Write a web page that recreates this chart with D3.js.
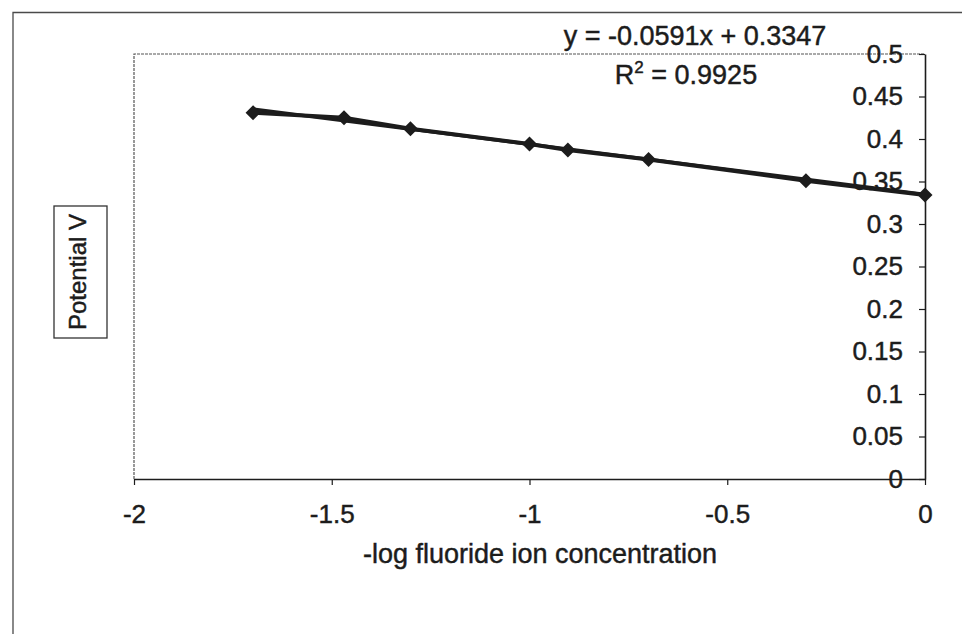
<!DOCTYPE html>
<html>
<head>
<meta charset="utf-8">
<script src="https://cdn.jsdelivr.net/npm/d3@7"></script>
<style>
  html, body { margin: 0; padding: 0; background: #ffffff; }
  svg { display: block; }
  text { font-family: "Liberation Sans", Arial, sans-serif; fill: #1c1c1c; stroke: #1c1c1c; stroke-width: 0.45px; }
</style>
</head>
<body>
<svg id="chart" width="962" height="634"></svg>
<script>
// Measured electrode potential against -log fluoride concentration
const logConc = [-1.699, -1.469, -1.301, -1.0, -0.903, -0.699, -0.301, 0];
const potential = [0.431, 0.425, 0.412, 0.394, 0.387, 0.376, 0.351, 0.334];

// Linear trendline coefficients and fit quality
const slope = -0.0591;
const intercept = 0.3347;
const rSquared = "0.9925";

const xTicks = [-2, -1.5, -1, -0.5, 0];
const yTicks = [0, 0.05, 0.1, 0.15, 0.2, 0.25, 0.3, 0.35, 0.4, 0.45, 0.5];

const xTitle = "-log fluoride ion concentration";
const yTitle = "Potential V";

const ink = "#1c1c1c";
const font = "'Liberation Sans', Arial, sans-serif";
const svg = d3.select("#chart");

const plot = { left: 134, right: 925, top: 54, bottom: 479 };

const x = d3.scaleLinear().domain([-2, 0]).range([plot.left, plot.right]);
const y = d3.scaleLinear().domain([0, 0.5]).range([plot.bottom, plot.top]);

// Outer chart frame (runs off the right and bottom edges)
svg.append("path")
  .attr("d", "M13,640 L13,12.5 L970,12.5")
  .attr("fill", "none")
  .attr("stroke", "#4a4a4a")
  .attr("stroke-width", 1.3);

// Plot area border (top and left)
svg.append("path")
  .attr("d", `M${plot.left},${plot.bottom} L${plot.left},${plot.top} L${plot.right},${plot.top}`)
  .attr("fill", "none")
  .attr("stroke", "#555")
  .attr("stroke-width", 1.2)
  .attr("stroke-dasharray", "3,1");

// X axis along the bottom
const xAxis = svg.append("g")
  .attr("transform", `translate(0,${plot.bottom})`)
  .call(d3.axisBottom(x).tickValues(xTicks).tickSize(6).tickSizeOuter(0).tickPadding(20)
    .tickFormat(d => String(d)));
xAxis.select(".domain").attr("stroke", ink).attr("stroke-width", 1.6);
xAxis.selectAll(".tick line").attr("stroke", ink).attr("stroke-width", 1.2);
xAxis.selectAll(".tick text").attr("fill", ink).style("font-size", "26px")
  .style("font-family", font);

// Y axis crossing at x = 0, labels on the inner side
const yAxis = svg.append("g")
  .attr("transform", `translate(${plot.right},0)`)
  .call(d3.axisLeft(y).tickValues(yTicks).tickSize(6).tickSizeOuter(0).tickPadding(16)
    .tickFormat(d => String(+d.toFixed(2))));
yAxis.select(".domain").attr("stroke", ink).attr("stroke-width", 1.6);
yAxis.selectAll(".tick line").attr("stroke", ink).attr("stroke-width", 1.2);
yAxis.selectAll(".tick text").attr("fill", ink).style("font-size", "26px")
  .style("font-family", font);

// Trendline over the measured range
const xMin = d3.min(logConc), xMax = d3.max(logConc);
svg.append("line")
  .attr("x1", x(xMin)).attr("y1", y(slope * xMin + intercept))
  .attr("x2", x(xMax)).attr("y2", y(slope * xMax + intercept))
  .attr("stroke", ink)
  .attr("stroke-width", 3.5);

// Data series line
const pts = logConc.map((v, i) => [v, potential[i]]);
svg.append("path")
  .datum(pts)
  .attr("d", d3.line().x(d => x(d[0])).y(d => y(d[1])))
  .attr("fill", "none")
  .attr("stroke", ink)
  .attr("stroke-width", 4)
  .attr("stroke-linejoin", "round");

// Diamond markers
svg.append("g").selectAll("path")
  .data(pts)
  .join("path")
  .attr("transform", d => `translate(${x(d[0])},${y(d[1])})`)
  .attr("d", "M0,-7.5 L7.5,0 L0,7.5 L-7.5,0 Z")
  .attr("fill", ink);

// Trendline equation and R-squared
svg.append("text")
  .attr("x", 695).attr("y", 45)
  .attr("text-anchor", "middle")
  .style("font-size", "27px")
  .text(`y = ${slope}x + ${intercept}`);

const r2 = svg.append("text")
  .attr("x", 686).attr("y", 84)
  .attr("text-anchor", "middle")
  .style("font-size", "27px");
r2.append("tspan").text("R");
r2.append("tspan").attr("dy", -11).style("font-size", "17px").text("2");
r2.append("tspan").attr("dy", 11).text(` = ${rSquared}`);

// X axis title
svg.append("text")
  .attr("x", 540).attr("y", 563)
  .attr("text-anchor", "middle")
  .style("font-size", "27px")
  .text(xTitle);

// Y axis title in a box
const yt = svg.append("g").attr("transform", "translate(86,272) rotate(-90)");
yt.append("rect")
  .attr("x", -66).attr("y", -32).attr("width", 132).attr("height", 53)
  .attr("fill", "#fff")
  .attr("stroke", "#333")
  .attr("stroke-width", 1.3);
yt.append("text")
  .attr("x", 0).attr("y", 0)
  .attr("text-anchor", "middle")
  .style("font-size", "24px")
  .text(yTitle);
</script>
</body>
</html>
